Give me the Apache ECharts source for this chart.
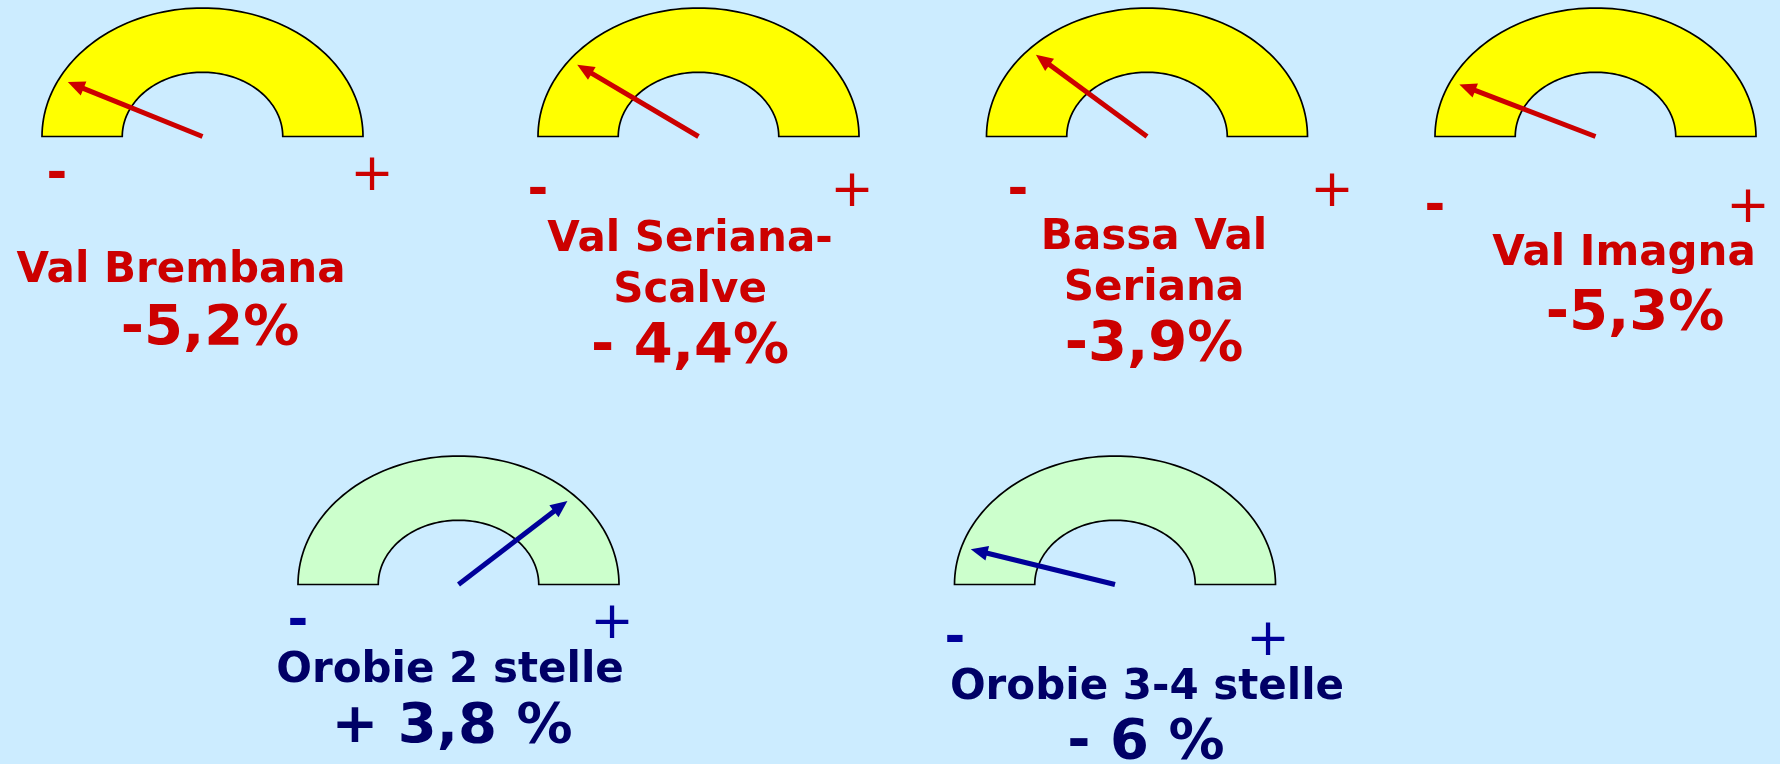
<!DOCTYPE html>
<html lang="it">
<head>
  <meta charset="UTF-8">
  <title>Indicatori</title>
  <style>
    html, body { margin: 0; padding: 0; background: #CCECFF; }
    #main { width: 1780px; height: 764px; }
  </style>
</head>
<body>
  <div id="main"></div>
  <script src="https://cdn.jsdelivr.net/npm/echarts@6/dist/echarts.min.js"></script>
  <script>
    // dati
    var names = ['Val Brembana', 'Val Seriana-\nScalve', 'Bassa Val\nSeriana', 'Val Imagna', 'Orobie 2 stelle', 'Orobie 3-4 stelle'];
    var values = [-5.2, -4.4, -3.9, -5.3, 3.8, -6];
    var valueLabels = ['-5,2%', '- 4,4%', '-3,9%', '-5,3%', '+ 3,8 %', '- 6 %'];
    var gaugeMin = -7.4;
    var gaugeMax = 7.4;

    // impaginazione: centro, base, segni -/+, titolo e valore
    var layout = [
      { cx: 202.5, by: 136.5, minus: [57, 176], plus: [372, 176], nameX: 181, nameY: 285, valX: 210, valY: 347, theme: 'red' },
      { cx: 698.5, by: 136.5, minus: [538, 192], plus: [852, 192], nameX: 690, nameY: 254, valX: 690, valY: 365, theme: 'red' },
      { cx: 1147, by: 136.5, minus: [1018, 192], plus: [1332, 192], nameX: 1154, nameY: 252, valX: 1154, valY: 363, theme: 'red' },
      { cx: 1595.5, by: 136.5, minus: [1435, 208], plus: [1748, 208], nameX: 1624, nameY: 268, valX: 1635, valY: 332, theme: 'red' },
      { cx: 458.5, by: 584.5, minus: [298, 623], plus: [612, 624], nameX: 450, nameY: 685, valX: 452, valY: 745, theme: 'blue' },
      { cx: 1115, by: 584.5, minus: [955, 640], plus: [1268, 641], nameX: 1147, nameY: 702, valX: 1146, valY: 761, theme: 'blue' }
    ];

    var themes = {
      red: { ring: '#FFFF00', needle: '#CC0000', sign: '#CC0000', text: '#CC0000' },
      blue: { ring: '#CCFFCC', needle: '#000099', sign: '#000099', text: '#000066' }
    };

    var RX = 160.5, RY = 128.5;
    var FONT = 'DejaVu Sans, Verdana, sans-serif';

    function valueToAngle(v) {
      // da gaugeMin (180°) a gaugeMax (0°)
      return Math.PI * (gaugeMax - v) / (gaugeMax - gaugeMin);
    }

    function renderGauge(theme) {
      return function (params, api) {
        var pts = [];
        var n = 90, k;
        for (k = 0; k <= n; k++) {
          var t = Math.PI - Math.PI * k / n;
          pts.push(api.coord([Math.cos(t), Math.sin(t)]));
        }
        for (k = 0; k <= n; k++) {
          var t2 = Math.PI * k / n;
          pts.push(api.coord([0.5 * Math.cos(t2), 0.5 * Math.sin(t2)]));
        }
        var a = valueToAngle(api.value(2));
        var c = api.coord([0, 0]);
        var tip = api.coord([0.94 * Math.cos(a), 0.94 * Math.sin(a)]);
        var dx = tip[0] - c[0], dy = tip[1] - c[1];
        var len = Math.sqrt(dx * dx + dy * dy);
        var ux = dx / len, uy = dy / len;
        var headL = 17, headW = 7.5;
        var back = [tip[0] - ux * headL, tip[1] - uy * headL];
        return {
          type: 'group',
          children: [{
            type: 'polygon',
            shape: { points: pts },
            style: { fill: theme.ring, stroke: '#000', lineWidth: 1.7 }
          }, {
            type: 'line',
            shape: { x1: c[0], y1: c[1], x2: back[0] + ux * 3, y2: back[1] + uy * 3 },
            style: { stroke: theme.needle, lineWidth: 5 }
          }, {
            type: 'polygon',
            shape: {
              points: [
                tip,
                [back[0] - uy * headW, back[1] + ux * headW],
                [back[0] + uy * headW, back[1] - ux * headW]
              ]
            },
            style: { fill: theme.needle }
          }]
        };
      };
    }

    var grids = [], xAxes = [], yAxes = [], series = [], graphics = [];

    layout.forEach(function (g, i) {
      var th = themes[g.theme];
      grids.push({ left: g.cx - RX, top: g.by - RY, width: 2 * RX, height: RY });
      xAxes.push({ gridIndex: i, type: 'value', min: -1, max: 1, show: false });
      yAxes.push({ gridIndex: i, type: 'value', min: 0, max: 1, show: false });
      series.push({
        type: 'custom',
        name: names[i],
        xAxisIndex: i,
        yAxisIndex: i,
        silent: true,
        renderItem: renderGauge(th),
        data: [[0, 0, values[i]]]
      });

      graphics.push({
        type: 'text', x: g.minus[0], y: g.minus[1],
        style: { text: '-', fill: th.sign, font: 'bold 50px ' + FONT, align: 'center', verticalAlign: 'middle' }
      });
      graphics.push({
        type: 'text', x: g.plus[0], y: g.plus[1],
        style: { text: '+', fill: th.sign, font: '52px ' + FONT, align: 'center', verticalAlign: 'middle' }
      });
      graphics.push({
        type: 'text', x: g.nameX, y: g.nameY - 39,
        style: { text: names[i], fill: th.text, font: 'bold 42px ' + FONT, lineHeight: 51, align: 'center', verticalAlign: 'top' }
      });
      graphics.push({
        type: 'text', x: g.valX, y: g.valY - 46,
        style: { text: valueLabels[i], fill: th.text, font: 'bold 56px ' + FONT, lineHeight: 56, align: 'center', verticalAlign: 'top' }
      });
    });

    var chart = echarts.init(document.getElementById('main'));
    chart.setOption({
      backgroundColor: '#CCECFF',
      animation: false,
      grid: grids,
      xAxis: xAxes,
      yAxis: yAxes,
      series: series,
      graphic: graphics
    });
  </script>
</body>
</html>
